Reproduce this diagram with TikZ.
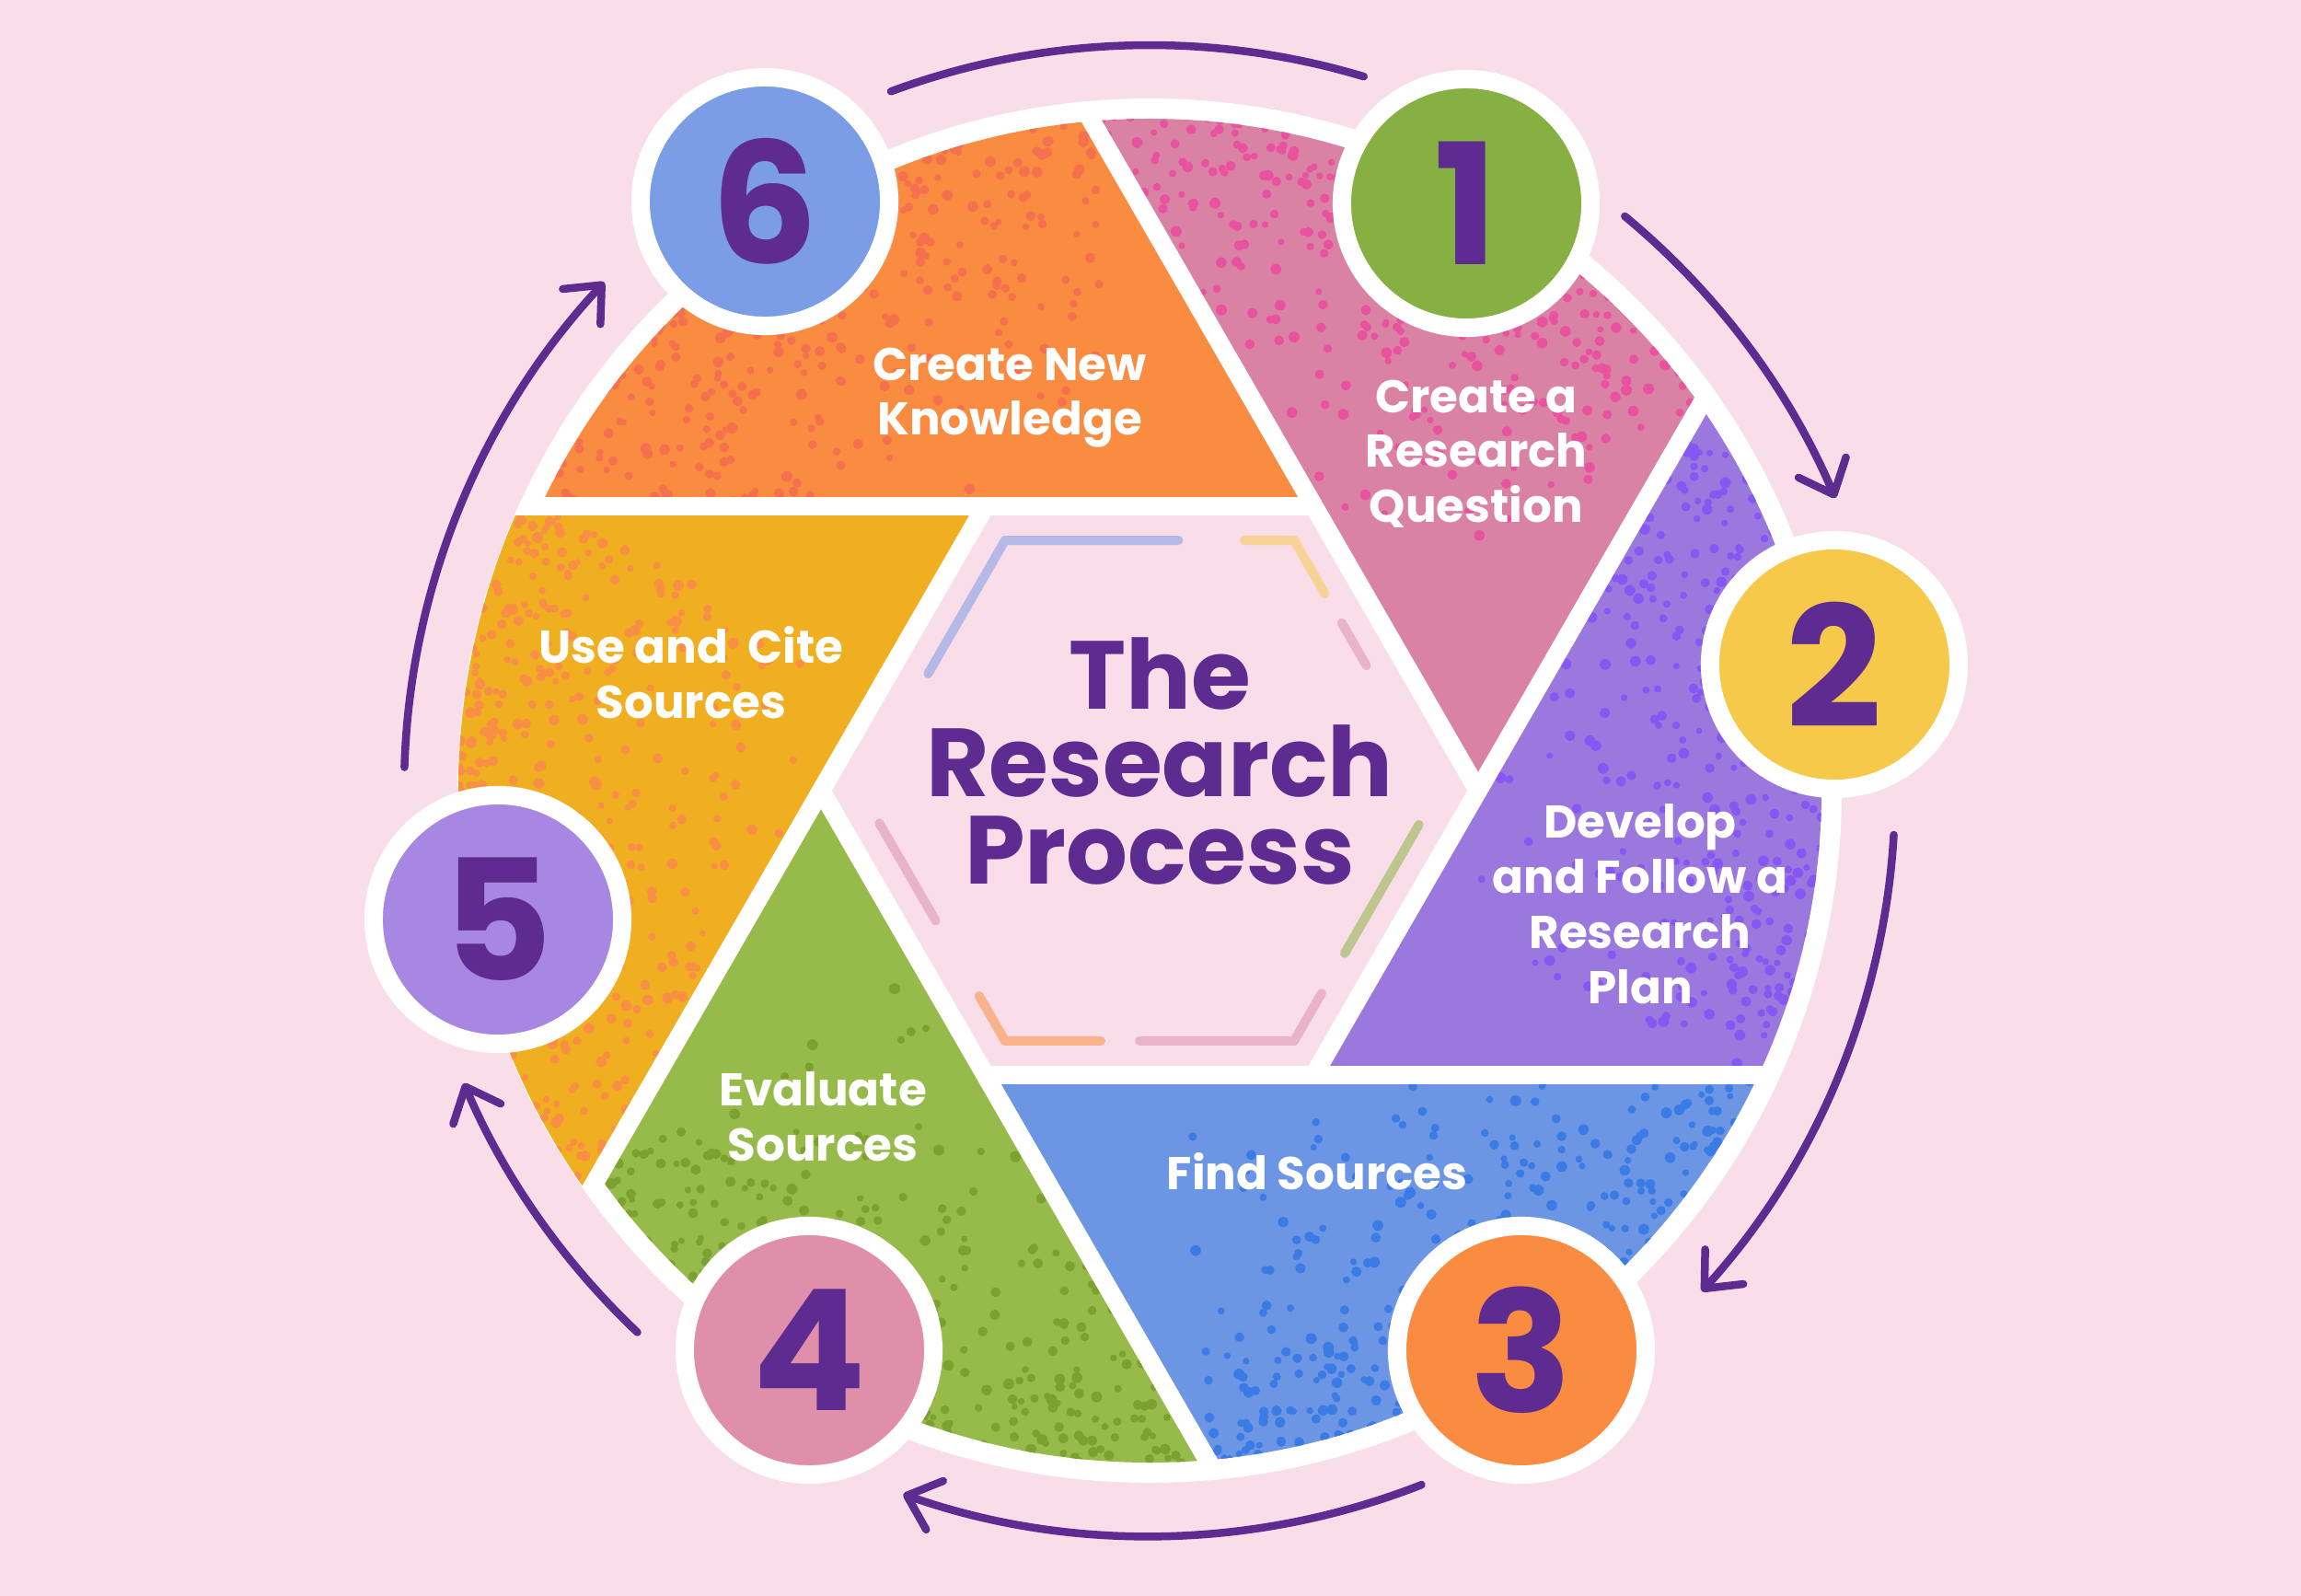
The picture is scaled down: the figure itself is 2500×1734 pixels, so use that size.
\documentclass[tikz,border=0pt]{standalone}
\usepackage{fontspec}
\setmainfont{Poppins}
\usetikzlibrary{arrows.meta,calc}
\definecolor{bgpink}{HTML}{F9DDE8}
\definecolor{ink}{HTML}{5E2B91}
\definecolor{segorange}{HTML}{F98C40}
\definecolor{segpink}{HTML}{D982A4}
\definecolor{segpurple}{HTML}{9B78DE}
\definecolor{segblue}{HTML}{6C96E3}
\definecolor{seggreen}{HTML}{96BB4B}
\definecolor{segyellow}{HTML}{EFAF21}
\definecolor{dotorange}{HTML}{F4704E}
\definecolor{dotpink}{HTML}{E8529E}
\definecolor{dotpurple}{HTML}{8657F2}
\definecolor{dotblue}{HTML}{3A7BE6}
\definecolor{dotgreen}{HTML}{7BA12E}
\definecolor{dotyellow}{HTML}{F98F45}
\definecolor{cone}{HTML}{86B041}
\definecolor{ctwo}{HTML}{F6C94B}
\definecolor{cthree}{HTML}{F98C40}
\definecolor{cfour}{HTML}{DF8FAA}
\definecolor{cfive}{HTML}{A887E2}
\definecolor{csix}{HTML}{7A9DE6}
\definecolor{dlav}{HTML}{B4B9E8}
\definecolor{dyel}{HTML}{F8D398}
\definecolor{dpink}{HTML}{EAB4C8}
\definecolor{dgreen}{HTML}{BDC68E}
\definecolor{dpeach}{HTML}{F8B28C}
\begin{document}
\begin{tikzpicture}[x=0.01cm,y=-0.01cm,
  arcline/.style={draw=ink,line width=0.085cm,line cap=round},
  arrowed/.style={arcline,-{Straight Barb[length=0.32cm,width=0.56cm,round]}},
  numcirc/.style={circle,minimum size=2.7cm,inner sep=0pt,draw=white,line width=0.2cm,text=ink,font=\fontsize{52}{52}\selectfont\bfseries},
  seglabel/.style={text=white,align=center,font=\fontsize{14.2}{17}\selectfont\bfseries,inner sep=0pt,anchor=north},
  titlelabel/.style={text=ink,align=center,font=\fontsize{29.9}{27}\selectfont\bfseries,inner sep=0pt,anchor=north},
  deco/.style={line width=0.1cm,line cap=round,line join=round}]
\useasboundingbox (0,0) rectangle (2500,1734);
\fill[bgpink] (0,0) rectangle (2500,1734);
\coordinate (C) at (1249,859);

% outer arrows
\coordinate (r61) at ($(C)+(249.7:810)$);
\coordinate (r12) at ($(C)+(309.6:810)$);
\coordinate (r23) at ($(C)+(3.4:810)$);
\coordinate (r34) at ($(C)+(68.6:810)$);
\coordinate (r45) at ($(C)+(133.4:810)$);
\coordinate (r56) at ($(C)+(181.8:810)$);
\draw[arcline] (r61) arc[start angle=249.7,end angle=286.7,radius=810];
\draw[arrowed] (r12) arc[start angle=309.6,end angle=336.9,radius=810];
\draw[arrowed] (r23) arc[start angle=3.4,end angle=42.2,radius=810];
\draw[arrowed] (r34) arc[start angle=68.6,end angle=109.3,radius=810];
\draw[arrowed] (r45) arc[start angle=133.4,end angle=156.9,radius=810];
\draw[arrowed] (r56) arc[start angle=181.8,end angle=223,radius=810];

% white disk
\fill[white] (C) circle[radius=752];

% segments
\pgfmathsetseed{7}
\foreach \a/\fc/\dc/\rr in {300/segorange/dotorange/730,0/segpink/dotpink/730,60/segpurple/dotpurple/730,120/segblue/dotblue/730,180/seggreen/dotgreen/730,240/segyellow/dotyellow/751}{
  \begin{scope}
    \clip (C) circle[radius=\rr];
    \clip ($(C)+(\a:357)$) -- ($(C)+(\a:357)+(\a-120:1500)$) -- ($(C)+(\a:357)+(\a-60:1500)$) -- cycle;
    \fill[\fc] (0,0) rectangle (2500,1734);
    \foreach \i in {1,...,430}{
      \pgfmathsetmacro\ang{\a-98+63*rnd}
      \pgfmathsetmacro\rad{752-420*rnd*rnd}
      \pgfmathsetmacro\dr{3.5+2.5*rnd}
      \fill[\dc] ($(C)+(\ang:\rad)$) circle[radius=\dr];
    }
  \end{scope}
}

% white gaps
\begin{scope}
  \clip (C) circle[radius=752];
  \foreach \a in {0,60,...,300}{
    \draw[white,line width=0.2cm] ($(C)+(\a:357)$) -- ++(\a-120:1500);
  }
\end{scope}
\fill[white] ($(C)+(0:357)$) -- ($(C)+(60:357)$) -- ($(C)+(120:357)$) -- ($(C)+(180:357)$) -- ($(C)+(240:357)$) -- ($(C)+(300:357)$) -- cycle;
\fill[bgpink] ($(C)+(0:345)$) -- ($(C)+(60:345)$) -- ($(C)+(120:345)$) -- ($(C)+(180:345)$) -- ($(C)+(240:345)$) -- ($(C)+(300:345)$) -- cycle;

% inner decorative hexagon
\coordinate (H0) at ($(C)+(0:314)$);
\coordinate (H60) at ($(C)+(60:314)$);
\coordinate (H120) at ($(C)+(120:314)$);
\coordinate (H180) at ($(C)+(180:314)$);
\coordinate (H240) at ($(C)+(240:314)$);
\coordinate (H300) at ($(C)+(300:314)$);
\draw[deco,dlav] ($(H180)!0.467!(H240)$) -- (H240) -- ($(H240)!0.6!(H300)$);
\draw[deco,dyel] ($(H240)!0.828!(H300)$) -- (H300) -- ($(H300)!0.213!(H0)$);
\draw[deco,dpink] ($(H300)!0.33!(H0)$) -- ($(H300)!0.5!(H0)$);
\draw[deco,dgreen] ($(H0)!0.136!(H60)$) -- ($(H0)!0.65!(H60)$);
\draw[deco,dpink] ($(H0)!0.81!(H60)$) -- (H60) -- ($(H60)!0.535!(H120)$);
\draw[deco,dpeach] ($(H60)!0.669!(H120)$) -- (H120) -- ($(H120)!0.18!(H180)$);
\draw[deco,dpink] ($(H120)!0.48!(H180)$) -- ($(H120)!0.87!(H180)$);

% title
\node[titlelabel] (title) at (1260,692) {The\\Research\\Process};

% segment labels
\node[seglabel] (lab6) at (1097,377) {Create New\\Knowledge};
\node[seglabel] (lab1) at (1604,412) {Create a\\Research\\Question};
\node[seglabel] (lab2) at (1782,873) {Develop\\and Follow a\\Research\\Plan};
\node[seglabel] (lab3) at (1431,1252) {Find Sources};
\node[seglabel] (lab4) at (894,1164) {Evaluate\\Sources};
\node[seglabel] (lab5) at (751,680) {Use and\ \ Cite\\Sources};

% number circles
\node[numcirc,fill=cone] (n1) at (1593,221) {1};
\node[numcirc,fill=ctwo] (n2) at (1993,722) {2};
\node[numcirc,fill=cthree] (n3) at (1653,1467) {3};
\node[numcirc,fill=cfour] (n4) at (879,1467) {4};
\node[numcirc,fill=cfive] (n5) at (541,999) {5};
\node[numcirc,fill=csix] (n6) at (831,219) {6};
\end{tikzpicture}
\end{document}
